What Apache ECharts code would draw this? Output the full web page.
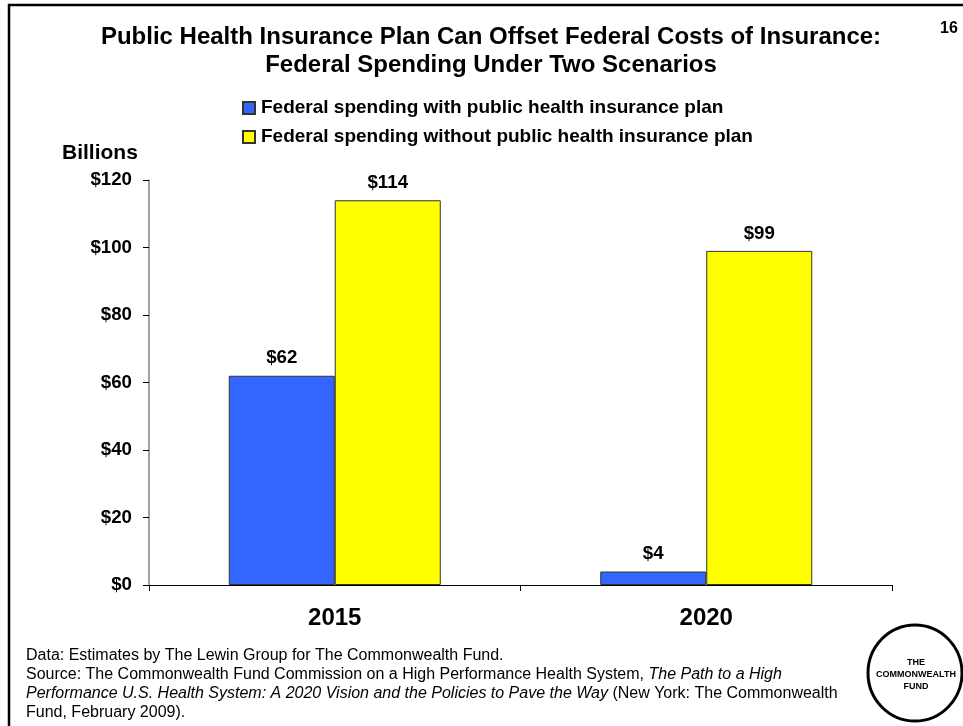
<!DOCTYPE html>
<html>
<head>
<meta charset="utf-8">
<script src="https://cdn.jsdelivr.net/npm/echarts@6/dist/echarts.min.js"></script>
<style>
  html, body { margin: 0; padding: 0; background: #fff; }
  #chart { width: 963px; height: 726px; }
</style>
</head>
<body>
<div id="chart"></div>
<script>
// Federal spending estimates, billions of dollars
const years = ['2015', '2020'];
const withPublicPlan = [62, 4];
const withoutPublicPlan = [114, 99];
const seriesNames = [
  'Federal spending with public health insurance plan',
  'Federal spending without public health insurance plan'
];
const yTicks = [0, 20, 40, 60, 80, 100, 120];

const FONT = 'Liberation Sans, Arial, sans-serif';
const chart = echarts.init(document.getElementById('chart'), null, { renderer: 'canvas' });

const barLabel = {
  show: true,
  position: 'top',
  distance: 8,
  color: '#000',
  fontFamily: FONT,
  fontWeight: 'bold',
  fontSize: 18.7,
  formatter: p => '$' + p.value
};

chart.setOption({
  backgroundColor: '#fff',
  animation: false,
  title: {
    text: 'Public Health Insurance Plan Can Offset Federal Costs of Insurance:\nFederal Spending Under Two Scenarios',
    left: 491,
    textAlign: 'center',
    top: 23,
    padding: 0,
    textStyle: {
      fontFamily: FONT,
      fontWeight: 'bold',
      fontSize: 24,
      lineHeight: 28,
      color: '#000'
    }
  },
  legend: {
    orient: 'vertical',
    left: 242,
    top: 98,
    padding: 0,
    itemWidth: 12,
    itemHeight: 12,
    itemGap: 9,
    icon: 'rect',
    data: seriesNames,
    textStyle: {
      fontFamily: FONT,
      fontWeight: 'bold',
      fontSize: 19,
      lineHeight: 20,
      color: '#000',
      padding: [0, 0, 0, 1]
    }
  },
  grid: { left: 149, right: 71, top: 180, bottom: 141, containLabel: false },
  xAxis: {
    type: 'category',
    data: years,
    axisLine: { lineStyle: { color: '#000', width: 1 } },
    axisTick: { show: true, length: 6, lineStyle: { color: '#000' } },
    axisLabel: {
      margin: 21,
      color: '#000',
      fontFamily: FONT,
      fontWeight: 'bold',
      fontSize: 24
    }
  },
  yAxis: {
    type: 'value',
    min: yTicks[0],
    max: yTicks[yTicks.length - 1],
    interval: yTicks[1] - yTicks[0],
    splitLine: { show: false },
    axisLine: { show: true, lineStyle: { color: '#808080', width: 1.5 } },
    axisTick: { show: true, length: 6, lineStyle: { color: '#000' } },
    axisLabel: {
      margin: 17,
      color: '#000',
      fontFamily: FONT,
      fontWeight: 'bold',
      fontSize: 18.7,
      formatter: v => '$' + v
    }
  },
  series: [
    {
      name: seriesNames[0],
      type: 'bar',
      data: withPublicPlan,
      barWidth: 106,
      barGap: '0%',
      itemStyle: { color: '#3366FF', borderColor: '#333', borderWidth: 1 },
      label: barLabel
    },
    {
      name: seriesNames[1],
      type: 'bar',
      data: withoutPublicPlan,
      barWidth: 106,
      barGap: '0%',
      itemStyle: { color: '#FFFF00', borderColor: '#333', borderWidth: 1 },
      label: barLabel
    }
  ],
  graphic: [
    // slide frame
    {
      type: 'rect',
      shape: { x: 9, y: 5, width: 970, height: 740 },
      style: { fill: 'none', stroke: '#000', lineWidth: 2.5 },
      silent: true
    },
    {
      type: 'text',
      left: 940, top: 21,
      style: { text: '16', fontFamily: FONT, fontWeight: 'bold', fontSize: 16, fill: '#000' }
    },
    {
      type: 'text',
      left: 62, top: 143,
      style: { text: 'Billions', fontFamily: FONT, fontWeight: 'bold', fontSize: 21, fill: '#000' }
    },
    // footnotes
    {
      type: 'text',
      left: 26, top: 646,
      style: {
        text: 'Data: Estimates by The Lewin Group for The Commonwealth Fund.\n' +
              'Source: The Commonwealth Fund Commission on a High Performance Health System, {i|The Path to a High}\n' +
              '{i|Performance U.S. Health System: A 2020 Vision and the Policies to Pave the Way} (New York: The Commonwealth\n' +
              'Fund, February 2009).',
        fontFamily: FONT,
        fontSize: 16,
        lineHeight: 19,
        fill: '#000',
        rich: {
          i: { fontFamily: FONT, fontStyle: 'italic', fontSize: 16, lineHeight: 19, fill: '#000' }
        }
      }
    },
    // logo
    {
      type: 'ellipse',
      shape: { cx: 915, cy: 673, rx: 47, ry: 48 },
      style: { fill: '#fff', stroke: '#000', lineWidth: 3 }
    },
    {
      type: 'text',
      x: 916, y: 675,
      style: {
        text: 'THE\nCOMMONWEALTH\nFUND',
        align: 'center',
        verticalAlign: 'middle',
        fontFamily: FONT,
        fontWeight: 'bold',
        fontSize: 9,
        lineHeight: 12,
        fill: '#000'
      }
    }
  ]
});
</script>
</body>
</html>
